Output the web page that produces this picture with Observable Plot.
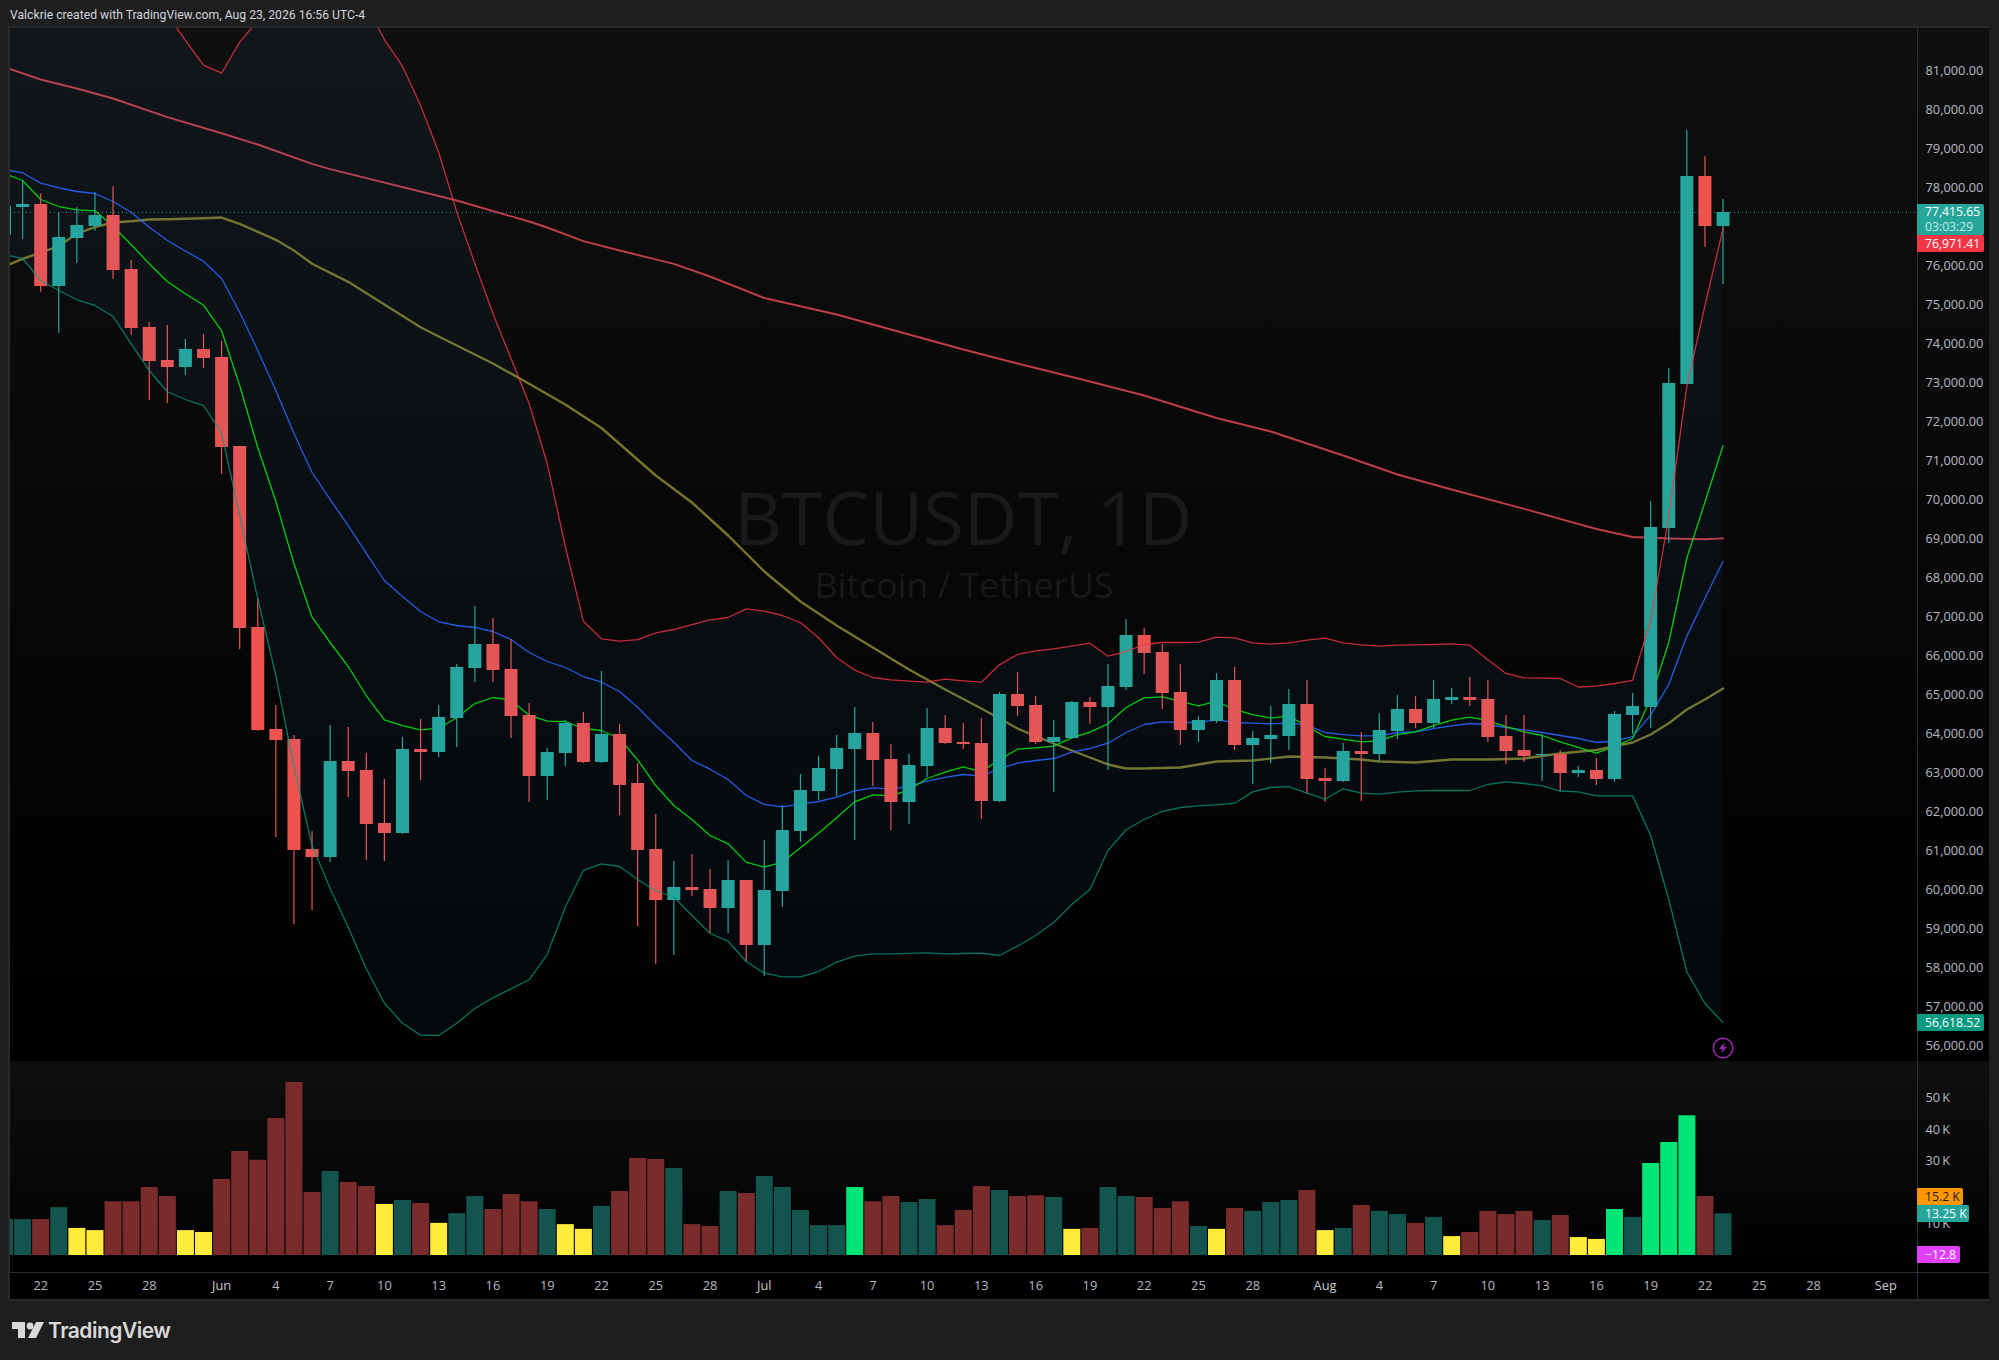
<!DOCTYPE html>
<html><head><meta charset="utf-8">
<script src="https://cdn.jsdelivr.net/npm/d3@7"></script>
<script src="https://cdn.jsdelivr.net/npm/@observablehq/plot@0.6"></script>
<style>
html,body{margin:0;padding:0;background:#1e1e1e;width:1999px;height:1360px;overflow:hidden;font-family:"Open Sans",sans-serif}
#page{position:relative;width:1999px;height:1360px}
.abs{position:absolute}
svg{background:transparent!important;display:block}
.badge{position:absolute;left:1917px;padding-left:8px;box-sizing:border-box;font:500 12.2px/17px "Open Sans",sans-serif;color:#fff;border-radius:0 2px 2px 0;white-space:nowrap}
</style></head><body>
<div id="page">
  <div class="abs" style="left:10px;top:15px;transform:translateY(-50%);font:12.2px Roboto,sans-serif;color:#d1d4dc;white-space:nowrap">Valckrie created with TradingView.com, Aug 23, 2026 16:56 UTC-4</div>
  <div class="abs" style="left:8px;top:26px;width:1981px;height:1275px;border:2px solid #2a2a2a;box-sizing:border-box"></div>
  <div class="abs" style="left:10px;top:28px;width:1979px;height:1033px;background:linear-gradient(#0f0f0f,#000)"></div>
  <div class="abs" style="left:10px;top:1061px;width:1979px;height:211px;background:linear-gradient(#0f0f0f,#000)"></div>
  <div class="abs" style="left:10px;top:1272px;width:1979px;height:27px;background:#000"></div>
  <div class="abs" style="left:734px;width:454px;text-align:center;top:469px;font:74px/96px 'Open Sans',sans-serif;color:rgba(120,123,134,.16);white-space:nowrap">BTCUSDT, 1D</div>
  <div class="abs" style="left:737px;width:454px;text-align:center;top:561px;font:35.5px/46px 'Open Sans',sans-serif;color:rgba(120,123,134,.16);white-space:nowrap">Bitcoin / TetherUS</div>
  <div id="pricePane" class="abs" style="left:0;top:0"></div>
  <div id="volPane" class="abs" style="left:0;top:1061px"></div>
  <div class="abs" style="left:1917px;top:28px;width:1px;height:1272px;background:#2a2e39"></div>
  <div class="abs" style="left:10px;top:1272px;width:1979px;height:1px;background:#2a2e39"></div>
  <div class="badge" style="top:204px;height:31px;width:67px;background:#26a69a;line-height:15px">77,415.65<br><span style="color:#c8ebe6;font-weight:400">03:03:29</span></div>
  <div class="badge" style="top:235px;height:17px;width:67px;background:#f23645">76,971.41</div>
  <div class="badge" style="top:1014px;height:17px;width:67px;background:#089981">56,618.52</div>
  <div class="badge" style="top:1188px;height:17px;width:46px;background:#ff9800;color:#131722;font-weight:400">15.2 K</div>
  <div class="badge" style="top:1205px;height:17px;width:52px;background:#26a69a">13.25 K</div>
  <div class="badge" style="top:1246px;height:17px;width:43px;background:#e040fb">−12.8</div>
  <svg class="abs" style="left:1712px;top:1037px" width="22" height="22" viewBox="0 0 22 22"><circle cx="11" cy="11" r="9.8" fill="none" stroke="#9c27b0" stroke-width="1.4"/><path d="M12.6 5.5 L7 12 H10.4 L9.2 16.5 L15 10 H11.6 Z" fill="#9c27b0"/></svg>
  <svg class="abs" style="left:12px;top:1322px" width="32" height="16" viewBox="0 0 32 16"><path d="M0 0H13V16H6V7H0Z M24 0H32L24 16H16Z" fill="#d9d9d9"/><circle cx="18" cy="4" r="3.4" fill="#d9d9d9"/></svg>
  <div class="abs" style="left:48px;top:1330px;transform:translateY(-50%);font:600 21px Inter,'Open Sans',sans-serif;letter-spacing:-.5px;color:#d9d9d9;white-space:nowrap">TradingView</div>
</div>
<script>
const startDay = Date.UTC(2026, 4, 20);
const baseOffset = 2; // day lists below count from May 22

const candleHigh = [77560,78207,77866,77379,77507,77891,78053,76156,74567,74490,74131,74259,
74080,71388,67492,64749,63980,61519,64236,64185,63519,62852,63929,64390,64749,65800,67287,66980,66441,64800,63647,64364,64569,65621,64262,63262,61955,60750,60929,60545,60776,60263,
61288,62186,62981,63442,63980,64698,64313,63749,63493,64672,64493,64287,64416,65083,65595,64980,64364,64851,64954,65800,66954,66723,66313,65800,64467,65570,65724,64082,64723,65159,65390,
63134,63775,64056,64544,65006,64980,65390,65185,65467,65390,64493,64493,64005,63595,63185,63390,64595,65057,69979,73388,79489,78822,77720];
const candleLow = [76700,76694,75344,74293,76079,76907,75669,74234,72567,72490,73208,73388,
70670,66185,64082,61365,59135,59494,60724,62391,60776,60750,61442,62827,63416,63672,65339,65339,63903,62263,62314,63185,63262,63262,61929,59084,58109,58340,59853,58904,58904,58186,
57802,59571,61237,62314,62417,61288,62673,61545,61699,62903,63749,63621,61827,62263,64467,63749,62519,63877,64262,63083,65134,65544,64647,63724,63800,64287,63595,62724,63262,63595,62468,
62263,62775,62288,63314,63877,64159,64159,64775,64723,63800,63237,63288,62801,62545,62903,62698,62775,64005,64159,68902,72978,76489,75541];
const candleOpen = [76797,77514,77591,75490,76720,77027,77309,75925,74439,73593,73414,73875,
73670,71388,66749,64134,63877,61058,60853,63314,63083,61725,61468,63621,63544,64416,65698,66313,65673,64493,62929,63519,64287,63288,64005,62750,61058,59750,60083,60032,59545,60263,
58596,59981,61519,62545,63109,63621,64031,63365,62263,63185,64159,63800,63775,62288,65031,64749,63800,63903,64826,64698,65211,66544,66108,65083,64108,64339,65390,63724,63877,63954,64775,
62878,62801,63570,63493,64082,64647,64287,64877,64954,64903,63954,63595,63468,63493,63006,63083,62852,64493,64698,69286,72978,78309,77028];
const candleClose = [77540,77591,75490,76746,77053,77309,75900,74413,73567,73414,73875,73644,
71362,66723,64108,63852,61032,60853,63314,63057,61699,61468,63621,63544,64441,65724,66313,65647,64467,62929,63544,64287,63288,64005,62698,61032,59750,60083,60006,59545,60263,58596,
60006,61545,62570,63134,63647,64031,63339,62263,63211,64159,63775,63749,62288,65031,64723,63800,63929,64826,64698,65236,66544,66083,65057,64108,64364,65390,63724,63903,63980,64775,62852,
62801,63570,63493,64108,64647,64287,64903,64954,64877,63929,63570,63442,63493,63006,63083,62852,64518,64723,69312,73003,78309,77028,77387];

const bandUpper = [85400,85300,85100,85000,84900,84700,84300,83900,83300,82462,81796,81162,80957,81752,82308,82949,83590,84103,84200,83718,82693,81821,81137,80129,78932,77402,76079,74798,73644,72490,70952,68825,66910,66459,66397,66436,66608,66697,66825,66946,67005,67228,67166,67056,66877,66485,65980,65654,65467,65408,65372,65346,65423,65382,65346,65792,66057,66151,66202,66269,66346,66013,66133,66313,66364,66364,66372,66500,66485,66356,66320,66356,66423,66474,66356,66305,66269,66295,66305,66313,66331,66295,65921,65570,65459,65449,65441,65223,65246,65313,65395,66928,69584,72936,75003,76971.41];
const bandLower = [76310,76207,75643,75387,75149,75003,74721,74021,73336,72791,72593,72439,71729,69620,67484,65518,63168,61160,60058,59066,58000,57118,56605,56297,56290,56605,56982,57256,57487,57718,58366,59579,60520,60691,60622,60289,59994,59840,59366,58904,58707,58187,57887,57794,57794,57930,58169,58323,58384,58384,58397,58410,58384,58392,58400,58341,58579,58853,59187,59648,60033,61032,61563,61827,62032,62134,62178,62204,62244,62536,62647,62672,62501,62347,62614,62501,62476,62527,62563,62570,62570,62570,62724,62793,62750,62690,62557,62534,62432,62432,62432,61417,59776,57917,57110,56618.52];
const maBlue = [78489,78404,78138,78020,77925,77874,77669,77394,77010,76669,76400,76138,75695,74831,73849,72824,71722,70722,70030,69363,68646,67953,67543,67158,66895,66800,66749,66646,66441,66108,65877,65723,65492,65346,65108,64706,64236,63808,63340,63116,62852,62443,62212,62152,62219,62288,62399,62563,62640,62604,62673,62809,62904,62980,62937,63134,63270,63339,63390,63552,63647,63783,64057,64262,64331,64313,64313,64382,64313,64295,64280,64305,64244,64057,64005,63972,63972,64057,64075,64159,64229,64288,64262,64185,64126,64057,63980,63903,63801,63839,63954,64503,65287,66528,67500,68440];
const maGreen = [78386,78207,77720,77540,77456,77430,77035,76566,76072,75618,75302,75010,74354,72952,71363,69978,68389,67012,66364,65749,65005,64382,64236,64126,64167,64434,64800,64954,64885,64500,64346,64339,64159,64108,63903,63357,62698,62186,61827,61417,61204,60733,60605,60733,61101,61476,61871,62280,62460,62434,62588,62878,63039,63177,63049,63357,63629,63665,63706,63921,64065,64280,64698,64946,64972,64852,64741,64852,64647,64518,64424,64485,64210,63954,63885,63818,63844,64005,64075,64236,64372,64449,64364,64210,64075,63980,63816,63673,63529,63698,63903,64928,66364,68530,69961,71414];

const ma200Days = [-2,0,2,4,7,10,12,15,16,23,27,28,30,32,35,37,40,44,47,51,54,58,61,65,68,72,75,78,82,86,88,90,92,93];
const ma200Values = [81111,80796,80565,80309,79830,79419,79130,78635,78497,77694,77156,77002,76651,76412,76071,75746,75195,74772,74387,73875,73516,73054,72696,72119,71773,71158,70671,70286,69789,69274,69068,69030,69012,69033];
const ma100Days = [-2,-1,0,1,2,3,4,5,6,7,9,10,11,13,14,15,17,19,21,22,25,27,29,31,34,36,38,40,42,44,46,48,50,52,54,56,58,59,60,61,63,64,65,67,69,71,73,74,76,78,80,82,84,86,88,89,90,91,92,93];
const ma100Values = [76002,76200,76361,76523,76848,77010,77130,77164,77207,77215,77241,77258,77097,76687,76413,76072,75610,75028,74446,74208,73516,72995,72465,71863,70645,69953,69107,68184,67415,66800,66236,65672,65159,64672,64159,63775,63416,63237,63134,63134,63160,63237,63314,63339,63442,63416,63365,63314,63288,63365,63365,63390,63518,63608,63801,64005,64295,64646,64903,65185];

const volume = [11.4,11.4,11.4,15.2,8.6,7.9,17.1,17.1,21.6,18.7,7.9,7.3,
24.1,33.0,30.2,43.5,54.9,20.0,26.7,23.2,21.9,16.2,17.5,16.5,10.2,13.3,18.7,14.6,19.4,17.1,14.6,9.8,8.3,15.6,20.3,30.8,30.5,27.6,9.8,9.2,20.3,19.7,
25.1,21.6,14.3,9.5,9.5,21.6,17.1,18.7,16.8,17.8,9.5,14.3,21.9,20.6,18.7,19.0,18.4,8.3,8.6,21.6,18.7,18.4,14.9,17.1,9.2,8.3,14.9,14.0,16.8,17.5,20.6,
7.9,8.6,15.9,14.0,13.0,10.2,12.1,6.0,7.3,14.0,13.0,14.0,11.1,12.7,5.7,5.1,14.6,12.1,29.2,35.9,44.4,18.7,13.25];
const volumeClass = "ttrtyyrrrryy"+"rrrrrrtrry"+"tryttrrrty"+"ytrrrtrrtr"+"tttttgrrtt"+"rrrtrrtyrt"+"trrrtyrtttr"+"ytrttrtyrr"+"rrtryygtgggrt";

const priceTicks = d3.range(56000, 82000, 1000);
const volumeTicks = [10,20,30,40,50];
const dayTickDates = ["2026-05-22","2026-05-25","2026-05-28","2026-06-04","2026-06-07","2026-06-10","2026-06-13","2026-06-16","2026-06-19","2026-06-22","2026-06-25","2026-06-28","2026-07-04","2026-07-07","2026-07-10","2026-07-13","2026-07-16","2026-07-19","2026-07-22","2026-07-25","2026-07-28","2026-08-04","2026-08-07","2026-08-10","2026-08-13","2026-08-16","2026-08-19","2026-08-22","2026-08-25","2026-08-28"];
const monthTickDates = ["2026-06-01","2026-07-01","2026-08-01","2026-09-01"];
const monthTickLabels = ["Jun","Jul","Aug","Sep"];
const lastPrice = 77387;

const COLORS = {up:"#26a69a",down:"#ef5350",t:"#14544e",r:"#7a2c2c",y:"#ffeb3b",g:"#00e676"};
const day = i => new Date(startDay + i*864e5);
const candles = candleOpen.map((o,i)=>({date:day(i),o,c:candleClose[i],h:candleHigh[i],l:candleLow[i],
  up:bandUpper[i],lo:bandLower[i],blue:maBlue[i],green:maGreen[i],vol:volume[i],cls:volumeClass[i]}));
const ma200 = ma200Days.map((d,i)=>({date:day(d+baseOffset),v:ma200Values[i]}));
const ma100 = ma100Days.map((d,i)=>({date:day(d+baseOffset),v:ma100Values[i]}));
const xDomain = [new Date(Date.UTC(2026,4,22)-1.669*864e5), new Date(Date.UTC(2026,4,22)+103.75*864e5)];
const font = {fontFamily:"'Open Sans',sans-serif",fontSize:"12.8px"};

const price = Plot.plot({
  width:1999,height:1061,marginLeft:10,marginRight:82,marginTop:28,marginBottom:0,
  style:{background:"transparent",...font},
  x:{type:"utc",domain:xDomain,axis:null},
  y:{domain:[82821-25.634*1061,82821-25.634*28]},
  marks:[
    Plot.axisY({anchor:"right",ticks:priceTicks,tickSize:0,tickPadding:8,textAnchor:"start",label:null,
      tickFormat:d=>d3.format(",.2f")(d),fill:"#b7bac2",dy:-1}),
    Plot.line(ma200,{x:"date",y:"v",stroke:"#bf3d47",strokeWidth:1.9,clip:true}),
    Plot.line(ma100,{x:"date",y:"v",stroke:"#78732a",strokeWidth:2.4,clip:true}),
    Plot.line(candles,{x:"date",y:"blue",stroke:"#2962ff",strokeWidth:1.3,strokeOpacity:.9,clip:true}),
    Plot.line(candles,{x:"date",y:"green",stroke:"#00e600",strokeWidth:1.3,strokeOpacity:.9,clip:true}),
    Plot.ruleY([lastPrice],{stroke:"#26a69a",strokeDasharray:"1 3",strokeWidth:1,clip:true}),
    Plot.ruleX(candles,{x:"date",y1:"l",y2:"h",stroke:d=>d.c>=d.o?COLORS.up:COLORS.down,strokeWidth:1.2,clip:true}),
    Plot.ruleX(candles,{x:"date",y1:"o",y2:"c",stroke:d=>d.c>=d.o?COLORS.up:COLORS.down,strokeWidth:13,clip:true}),
    Plot.areaY(candles,{x:"date",y1:"lo",y2:"up",fill:"#2196f3",fillOpacity:.05,clip:true}),
    Plot.line(candles,{x:"date",y:"up",stroke:"#f23645",strokeWidth:1.3,strokeOpacity:.8,clip:true}),
    Plot.line(candles,{x:"date",y:"lo",stroke:"#089981",strokeWidth:1.3,strokeOpacity:.75,clip:true})
  ]
});
document.getElementById("pricePane").append(price);

const vol = Plot.plot({
  width:1999,height:239,marginLeft:10,marginRight:82,marginTop:0,marginBottom:28,
  style:{background:"transparent",...font},
  x:{type:"utc",domain:xDomain,axis:null},
  y:{domain:[(1255-1272)/3.15,(1255-1061)/3.15]},
  marks:[
    Plot.axisY({anchor:"right",ticks:volumeTicks,tickSize:0,tickPadding:8,textAnchor:"start",label:null,
      tickFormat:d=>d+"\u2009K",fill:"#b7bac2"}),
    Plot.ruleX(candles,{x:"date",y1:0,y2:"vol",stroke:d=>COLORS[d.cls],strokeWidth:17,clip:true}),
    Plot.text(dayTickDates,{x:d=>new Date(d),text:d=>String(+d.slice(8)),frameAnchor:"bottom",dy:17.5,fill:"#b7bac2",fontSize:12.8}),
    Plot.text(monthTickDates,{x:d=>new Date(d),text:(d,i)=>monthTickLabels[i],frameAnchor:"bottom",dy:17.5,fill:"#c8cbd2",fontSize:12.8,fontWeight:500})
  ]
});
document.getElementById("volPane").append(vol);
</script>
</body></html>
